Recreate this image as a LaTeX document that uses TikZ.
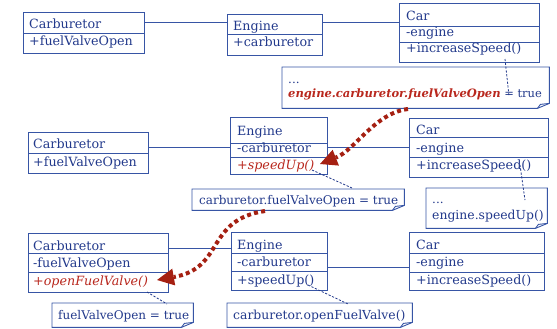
\documentclass[tikz,border=0pt]{standalone}
\usepackage{fontspec}
\setmainfont{DejaVu Serif}
\usetikzlibrary{arrows.meta}
\definecolor{boxblue}{RGB}{55,85,165}
\definecolor{txtblue}{RGB}{35,58,140}
\definecolor{redtxt}{RGB}{185,40,30}
\definecolor{arrred}{RGB}{165,32,18}
\tikzset{
  classbox/.style={draw=boxblue, line width=0.9pt, fill=white, anchor=north west, inner sep=0pt},
  divider/.style={draw=boxblue, line width=0.9pt},
  assoc/.style={draw=boxblue, line width=0.9pt},
  txt/.style={anchor=base west, inner sep=0pt, text=txtblue, font=\fontsize{12.7}{14}\selectfont},
  notetxt/.style={txt, font=\fontsize{12}{14}\selectfont},
  redit/.style={txt, text=redtxt, font=\fontsize{12.7}{14}\selectfont\itshape},
  notebox/.style={anchor=north west, inner sep=0pt},
  noteline/.style={draw=boxblue, line width=0.9pt, fill=white, line join=miter},
  dashlink/.style={draw=txtblue, line width=0.8pt, dash pattern=on 2.2pt off 1.6pt},
  flowarrow/.style={draw=arrred, line width=4pt, dash pattern=on 4pt off 3.2pt,
     -{Triangle[length=17pt,width=17pt,fill=arrred,line width=0pt]}, shorten >=0pt}
}
\newcommand\drawnote[1]{%
  \path[noteline] (#1.north west) -- (#1.north east) -- ([yshift=5pt]#1.south east)
     -- ([xshift=-12pt]#1.south east) -- (#1.south west) -- cycle;
  \draw[noteline, fill=none] ([xshift=-12pt]#1.south east) -- ([xshift=-9pt,yshift=4pt]#1.south east)
     -- ([yshift=5pt]#1.south east);}
\begin{document}
\begin{tikzpicture}[x=1pt,y=-1pt]
\path[use as bounding box] (0,0) rectangle (557,329);

% ===== Row 1 =====
\node[classbox, minimum width=121pt, minimum height=41pt] (carb1) at (23,12) {};
\draw[divider] (carb1.west |- 0,33) -- (carb1.east |- 0,33);
\node[txt] (carb1a) at (29,29) {Carburetor};
\node[txt] (carb1b) at (29,46) {+fuelValveOpen};

\node[classbox, minimum width=95pt, minimum height=41pt] (eng1) at (227,14) {};
\draw[divider] (eng1.west |- 0,34) -- (eng1.east |- 0,34);
\node[txt] (eng1a) at (233,31) {Engine};
\node[txt] (eng1b) at (233,47) {+carburetor};

\node[classbox, minimum width=140pt, minimum height=59pt] (car1) at (399,3) {};
\draw[divider] (car1.west |- 0,26) -- (car1.east |- 0,26);
\draw[divider] (car1.west |- 0,42) -- (car1.east |- 0,42);
\node[txt] (car1a) at (406,21) {Car};
\node[txt] (car1b) at (406,37) {-engine};
\node[txt] (car1c) at (406,53) {+increaseSpeed()};

\draw[assoc] (carb1.east |- 0,22) -- (eng1.west |- 0,22);
\draw[assoc] (eng1.east |- 0,22) -- (car1.west |- 0,22);

% ===== Row 2 =====
\node[classbox, minimum width=120pt, minimum height=41pt] (carb2) at (28,132) {};
\draw[divider] (carb2.west |- 0,153) -- (carb2.east |- 0,153);
\node[txt] (carb2a) at (33,148) {Carburetor};
\node[txt] (carb2b) at (33,166) {+fuelValveOpen};

\node[classbox, minimum width=97pt, minimum height=57pt] (eng2) at (230,117) {};
\draw[divider] (eng2.west |- 0,143) -- (eng2.east |- 0,143);
\draw[divider] (eng2.west |- 0,157) -- (eng2.east |- 0,157);
\node[txt] (eng2a) at (237,135) {Engine};
\node[txt] (eng2b) at (237,152) {-carburetor};
\node[redit] (eng2c) at (237,169) {+speedUp()};

\node[classbox, minimum width=139pt, minimum height=59pt] (car2) at (409,118) {};
\draw[divider] (car2.west |- 0,137) -- (car2.east |- 0,137);
\draw[divider] (car2.west |- 0,157) -- (car2.east |- 0,157);
\node[txt] (car2a) at (416,134) {Car};
\node[txt] (car2b) at (416,152) {-engine};
\node[txt] (car2c) at (416,169) {+increaseSpeed()};

\draw[assoc] (carb2.east |- 0,147) -- (eng2.west |- 0,147);
\draw[assoc] (eng2.east |- 0,147) -- (car2.west |- 0,147);

% ===== Row 3 =====
\node[classbox, minimum width=140pt, minimum height=59pt] (carb3) at (28,233) {};
\draw[divider] (carb3.west |- 0,253) -- (carb3.east |- 0,253);
\draw[divider] (carb3.west |- 0,272) -- (carb3.east |- 0,272);
\node[txt] (carb3a) at (33,250) {Carburetor};
\node[txt] (carb3b) at (33,267) {-fuelValveOpen};
\node[redit] (carb3c) at (33,285) {+openFuelValve()};

\node[classbox, minimum width=96pt, minimum height=58pt] (eng3) at (231,232) {};
\draw[divider] (eng3.west |- 0,253) -- (eng3.east |- 0,253);
\draw[divider] (eng3.west |- 0,271) -- (eng3.east |- 0,271);
\node[txt] (eng3a) at (237,249) {Engine};
\node[txt] (eng3b) at (237,266) {-carburetor};
\node[txt] (eng3c) at (237,284) {+speedUp()};

\node[classbox, minimum width=135pt, minimum height=58pt] (car3) at (409,232) {};
\draw[divider] (car3.west |- 0,253) -- (car3.east |- 0,253);
\draw[divider] (car3.west |- 0,272) -- (car3.east |- 0,272);
\node[txt] (car3a) at (416,249) {Car};
\node[txt] (car3b) at (416,266) {-engine};
\node[txt] (car3c) at (416,284) {+increaseSpeed()};

\draw[assoc] (carb3.east |- 0,248) -- (eng3.west |- 0,248);
\draw[assoc] (eng3.east |- 0,267) -- (car3.west |- 0,267);

% ===== Notes =====
\node[notebox, minimum width=267pt, minimum height=41pt] (n1) at (282,67) {};
\drawnote{n1}
\node[notetxt] (n1a) at (288,84) {...};
\node[notetxt, font=\fontsize{11.5}{14}\selectfont] (n1b) at (288,98) {\textcolor{redtxt}{\bfseries\itshape engine.carburetor.fuelValveOpen} = true};

\node[notebox, minimum width=212pt, minimum height=21pt] (n2) at (192,189) {};
\drawnote{n2}
\node[notetxt] (n2a) at (199,204) {carburetor.fuelValveOpen = true};

\node[notebox, minimum width=121pt, minimum height=40pt] (n3) at (426,188) {};
\drawnote{n3}
\node[notetxt] (n3a) at (432,203) {...};
\node[notetxt, font=\fontsize{12.4}{14}\selectfont] (n3b) at (432,219) {engine.speedUp()};

\node[notebox, minimum width=141pt, minimum height=24pt] (n4) at (52,303) {};
\drawnote{n4}
\node[notetxt] (n4a) at (58,319) {fuelValveOpen = true};

\node[notebox, minimum width=185pt, minimum height=24pt] (n5) at (227,303) {};
\drawnote{n5}
\node[notetxt, font=\fontsize{12.4}{14}\selectfont] (n5a) at (233,319) {carburetor.openFuelValve()};

% ===== Dashed links =====
\coordinate (d1a) at (505,59);
\coordinate (d1b) at (509,96);
\draw[dashlink] (d1a) -- (d1b);
\coordinate (d2a) at (312,170);
\coordinate (d2b) at (352,188);
\draw[dashlink] (d2a) -- (d2b);
\coordinate (d3a) at (520,165);
\coordinate (d3b) at (525,200);
\draw[dashlink] (d3a) -- (d3b);
\coordinate (d4a) at (147,292);
\coordinate (d4b) at (167,304);
\draw[dashlink] (d4a) -- (d4b);
\coordinate (d5a) at (308,285);
\coordinate (d5b) at (348,304);
\draw[dashlink] (d5a) -- (d5b);

% ===== Flow arrows =====
\coordinate (f1s) at (408,109);
\coordinate (f1e) at (320,164);
\draw[flowarrow] (f1s) .. controls (375,113) and (355,150) .. (f1e);
\coordinate (f2s) at (265,211);
\coordinate (f2e) at (157,280);
\draw[flowarrow] (f2s) .. controls (205,220) and (225,268) .. (f2e);
\end{tikzpicture}
\end{document}
